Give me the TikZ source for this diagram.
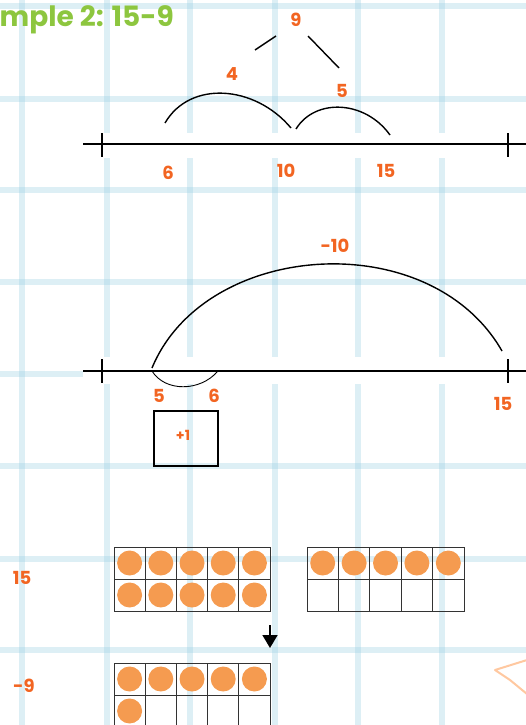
\documentclass[tikz,border=0pt]{standalone}
\usepackage{fontspec}
\setmainfont{Poppins}
\usetikzlibrary{arrows.meta}

\definecolor{gridblue}{RGB}{150,205,225}
\definecolor{numorange}{RGB}{242,101,34}
\definecolor{dotorange}{RGB}{245,155,80}
\definecolor{titlegreen}{RGB}{141,198,63}
\definecolor{peach}{RGB}{255,200,160}

\tikzset{
  num/.style={text=numorange, font=\bfseries\fontsize{18}{18}\selectfont, inner sep=0pt},
  gridline/.style={gridblue, opacity=0.32, line width=6pt},
  cell/.style={draw=black!80, line width=0.9pt},
  dot/.style={fill=dotorange},
}

\begin{document}
\begin{tikzpicture}[x=1pt, y=-1pt, line width=1.4pt]
  \useasboundingbox (0,0) rectangle (526,725);
  % --- grid paper ---
  \foreach \gx in {22,107,190,275,358,442} \draw[gridline] (\gx,0)--(\gx,725);
  \foreach \gy in {6,99,190,282,374,466,559,650} \draw[gridline] (0,\gy)--(526,\gy);
  \fill[white] (83,133) rectangle (526,158);
  \fill[white] (83,357) rectangle (526,384);
  \node[anchor=west, text=titlegreen, font=\bfseries\fontsize{28}{28}\selectfont, inner sep=0pt] (title) at (-1,20) {mple 2: 15-9};

  % --- number line 1: 15-9 split into 5 and 4 ---
  \coordinate (L1a) at (83,144); \coordinate (L1b) at (526,144);
  \draw (L1a)--(L1b);
  \draw (102,133)--(102,157); \draw (508,133)--(508,157);
  \coordinate (s6) at (165,123); \coordinate (s10a) at (291,128);
  \coordinate (s10b) at (296,129); \coordinate (s15) at (390,135);
  \draw (s6) .. controls (190,80) and (255,85) .. (s10a);
  \draw (s10b) .. controls (315,98) and (365,100) .. (s15);
  \node[num] (n6) at (168,173) {6};
  \node[num] (n10) at (286,171) {10};
  \node[num] (n15) at (386,171) {15};
  \node[num] (n4) at (232,74) {4};
  \node[num] (n5) at (342,91) {5};
  \node[num] (n9) at (296,20) {9};
  \coordinate (b1) at (255,50); \coordinate (b2) at (276,36);
  \coordinate (b3) at (308,36); \coordinate (b4) at (339,68);
  \draw (b1)--(b2); \draw (b3)--(b4);

  % --- number line 2: take 10 then add 1 ---
  \coordinate (L2a) at (83,371); \coordinate (L2b) at (526,371);
  \draw (L2a)--(L2b);
  \draw (102,359)--(102,383); \draw (508,359)--(508,383);
  \coordinate (t5) at (152,368); \coordinate (t15) at (502,351);
  \coordinate (t5b) at (152,371); \coordinate (t6) at (218,371);
  \draw (t5) .. controls (205,240) and (430,225) .. (t15);
  \draw[line width=0.9pt] (t5b) .. controls (165,392) and (200,392) .. (t6);
  \node[num] (m10) at (335,246) {-10};
  \node[num] (m5) at (159,396) {5};
  \node[num] (m6) at (214,396) {6};
  \node[num] (m15) at (503,404) {15};
  \node[draw, line width=1.4pt, minimum width=64pt, minimum height=55pt] (plusbox) at (186,438.5) {};
  \node[num, font=\bfseries\fontsize{14}{14}\selectfont] (plus1) at (183,435) {+1};

  % --- ten frames ---
  \node[num] (f15) at (22,578) {15};
  \node[num] (f9) at (24,686) {-9};
  % full frame
  \foreach \i in {0,...,4} \foreach \j in {0,1} {
    \draw[cell] (114+31.2*\i,547+32*\j) rectangle ++(31.2,32);
    \fill[dot] (129.6+31.2*\i,563+32*\j) circle (12.5pt);
  }
  % half frame
  \foreach \i in {0,...,4} {
    \draw[cell] (307+31.4*\i,547) rectangle ++(31.4,32);
    \draw[cell] (307+31.4*\i,579) rectangle ++(31.4,32);
    \fill[dot] (322.7+31.4*\i,563) circle (12.5pt);
  }
  \coordinate (arrA) at (270,625); \coordinate (arrB) at (270,648);
  \draw[-{Triangle[width=15pt,length=13pt]}, line width=1.6pt] (arrA)--(arrB);
  % result frame
  \foreach \i in {0,...,4} \foreach \j in {0,1} {
    \draw[cell] (114+31.2*\i,663+32*\j) rectangle ++(31.2,32);
  }
  \foreach \i in {0,...,4} \fill[dot] (129.6+31.2*\i,679) circle (12.5pt);
  \fill[dot] (129.6,711) circle (12.5pt);

  % --- peach scribble ---
  \draw[peach, line width=2pt, line cap=round, line join=round] (527,660)--(495,670)--(510,680)--(527,694);
\end{tikzpicture}
\end{document}
